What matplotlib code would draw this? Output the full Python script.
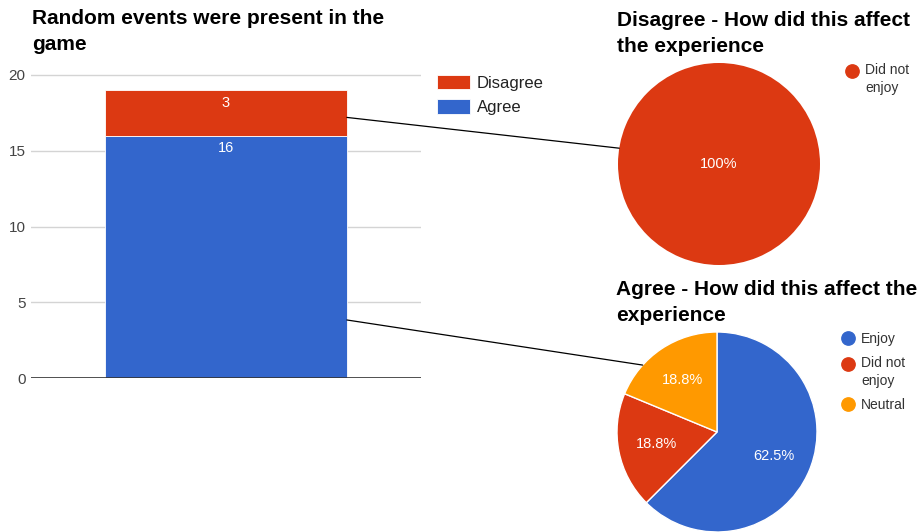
import matplotlib.pyplot as plt
import numpy as np
from matplotlib.lines import Line2D
from matplotlib.patches import ConnectionPatch
from matplotlib.legend_handler import HandlerLine2D

plt.rcParams['font.family'] = ['Liberation Sans', 'DejaVu Sans']

# stacked bar: "Random events were present in the game"
answers = ['Agree', 'Disagree']
answer_counts = [16, 3]
answer_colors = ['#3366cc', '#dc3912']
y_ticks = [0, 5, 10, 15, 20]

# follow-up pies
disagree_labels = ['Did not\nenjoy']
disagree_counts = [3]
disagree_colors = ['#dc3912']

agree_labels = ['Enjoy', 'Did not\nenjoy', 'Neutral']
agree_counts = [10, 3, 3]
agree_colors = ['#3366cc', '#dc3912', '#ff9900']

W, H = 922, 532
fig = plt.figure(figsize=(W / 100, H / 100), dpi=100)


def px_axes(left, top, width, height):
    return fig.add_axes([left / W, 1 - (top + height) / H, width / W, height / H])


def pct(p):
    return f'{p:.0f}%' if p > 99.95 else f'{p:.1f}%'


def lift_marker(h, orig):
    # put the dot next to the first line of a two-line label
    h.update_from(orig)
    if '\n' in orig.get_label():
        h.set_ydata(np.asarray(h.get_ydata()) + 6.6)


def dot(color, label):
    return Line2D([], [], linestyle='none', marker='o', markersize=9.6,
                  markerfacecolor=color, markeredgecolor=color, label=label)


def pie_legend(axp, handles, x, y):
    lg = axp.legend(handles=handles, loc='upper left', bbox_to_anchor=(x / W, 1 - y / H),
                    bbox_transform=fig.transFigure, frameon=False, fontsize=10,
                    handlelength=1.0, handletextpad=0.45, borderpad=0, borderaxespad=0,
                    labelspacing=0.72,
                    handler_map={h: HandlerLine2D(update_func=lift_marker) for h in handles})
    for t in lg.get_texts():
        t.set_linespacing(1.38)
        t.set_color('#333333')
    return lg


# ---- bar chart ----
ymax = 20.3
ax = px_axes(31, 378 - 303 / 20 * ymax, 390, 303 / 20 * ymax)
bar_w = 0.62
bottom = 0
bars = []
for name, val, col in zip(answers, answer_counts, answer_colors):
    b = ax.bar(0, val, width=bar_w, bottom=bottom, color=col, label=name,
               edgecolor='white', linewidth=0.6, zorder=2)
    ax.annotate(str(val), (0, bottom + val), xytext=(0, -9), textcoords='offset points',
                ha='center', va='center', color='white', fontsize=10.5)
    bars.append(b)
    bottom += val
ax.set_xlim(-0.5, 0.5)
ax.set_ylim(0, ymax)
ax.set_yticks(y_ticks)
ax.set_xticks([])
ax.tick_params(axis='y', length=0, pad=4, labelsize=11, labelcolor='#444444')
for s in ax.spines.values():
    s.set_visible(False)
ax.grid(axis='y', color='#d4d4d4', linewidth=1)
ax.set_axisbelow(True)
ax.axhline(0, color='#333333', linewidth=1.2, zorder=3)

leg = ax.legend(handles=bars[::-1], loc='upper left', bbox_to_anchor=(437 / W, 1 - 75 / H),
                bbox_transform=fig.transFigure, frameon=False, fontsize=12,
                handlelength=2.0, handleheight=0.95, handletextpad=0.4,
                labelspacing=0.5, borderpad=0, borderaxespad=0)
for t in leg.get_texts():
    t.set_color('#222222')

fig.text(32 / W, 1 - 9 / H, 'Random events were present in the\ngame', fontsize=15,
         fontweight='bold', va='top', linespacing=1.47)

# ---- pie: disagree ----
ax1 = px_axes(618, 63, 202, 202)
ax1.pie(disagree_counts, colors=disagree_colors, startangle=90, counterclock=False,
        autopct=pct, pctdistance=0, textprops=dict(color='white', fontsize=10.5))
ax1.set_xlim(-1, 1)
ax1.set_ylim(-1, 1)
pie_legend(ax1, [dot(c, l) for c, l in zip(disagree_colors, disagree_labels)], 845, 63)
fig.text(617 / W, 1 - 11 / H, 'Disagree - How did this affect\nthe experience', fontsize=15,
         fontweight='bold', va='top', linespacing=1.47)

# ---- pie: agree ----
ax2 = px_axes(617, 332, 200, 200)
ax2.pie(agree_counts, colors=agree_colors, startangle=90, counterclock=False,
        autopct=pct, pctdistance=0.62, textprops=dict(color='white', fontsize=10.5),
        wedgeprops=dict(edgecolor='white', linewidth=1))
ax2.set_xlim(-1, 1)
ax2.set_ylim(-1, 1)
pie_legend(ax2, [dot(c, l) for c, l in zip(agree_colors, agree_labels)], 841, 332)
fig.text(616 / W, 1 - 280 / H, 'Agree - How did this affect the\nexperience', fontsize=15,
         fontweight='bold', va='top', linespacing=1.47)

# connectors from the bar segments to their pies
bar_right = bar_w / 2
a1, a2 = np.radians(171), np.radians(138)
for (yv, ang, target) in [(17.2, a1, ax1), (3.83, a2, ax2)]:
    con = ConnectionPatch(xyA=(bar_right, yv), coordsA=ax.transData,
                          xyB=(np.cos(ang), np.sin(ang)), coordsB=target.transData,
                          color='black', linewidth=0.9)
    fig.add_artist(con)

fig.savefig('out.png', dpi=100)
